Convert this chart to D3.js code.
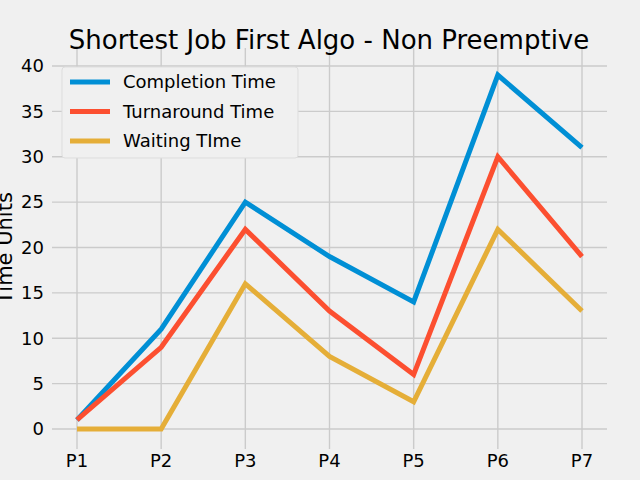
<!DOCTYPE html>
<html><head><meta charset="utf-8">
<script src="https://cdn.jsdelivr.net/npm/d3@7"></script>
<style>body{margin:0;background:#f0f0f0}svg{display:block}text{font-family:"DejaVu Sans",sans-serif}</style>
</head><body>
<script>
const categories=["P1","P2","P3","P4","P5","P6","P7"];
const completion=[1,11,25,19,14,39,31];
const turnaround=[1,9,22,13,6,30,19];
const waiting=[0,0,16,8,3,22,13];
const yTicks=[0,5,10,15,20,25,30,35,40];
const seriesNames=["Completion Time","Turnaround Time","Waiting TIme"];
const colors=["#008fd5","#fc4f30","#e5ae38"];
const W=640,H=480;
const svg=d3.select("body").append("svg").attr("width",W).attr("height",H).style("background","#f0f0f0");
const x=d3.scalePoint().domain(categories).range([77,582]);
const y=d3.scaleLinear().domain([0,40]).range([429,66]);
const g=svg.append("g");
yTicks.forEach(t=>{g.append("line").attr("x1",52).attr("x2",607).attr("y1",y(t)).attr("y2",y(t)).attr("stroke","#cbcbcb").attr("stroke-width",1.4);
 g.append("text").attr("x",44).attr("y",y(t)).attr("dy","0.35em").attr("text-anchor","end").attr("font-size",18).attr("fill","#000").text(t);});
categories.forEach(c=>{g.append("line").attr("x1",x(c)).attr("x2",x(c)).attr("y1",48).attr("y2",449).attr("stroke","#cbcbcb").attr("stroke-width",1.4);
 g.append("text").attr("x",x(c)).attr("y",467).attr("text-anchor","middle").attr("font-size",18).attr("fill","#000").text(c);});
const line=d3.line().x((d,i)=>x(categories[i])).y(d=>y(d));
[completion,turnaround,waiting].forEach((s,i)=>svg.append("path").datum(s).attr("d",line).attr("fill","none").attr("stroke",colors[i]).attr("stroke-width",5));
svg.append("text").attr("x",329).attr("y",49).attr("text-anchor","middle").attr("font-size",26).text("Shortest Job First Algo - Non Preemptive");
svg.append("text").attr("transform","translate(12,248) rotate(-90)").attr("text-anchor","middle").attr("font-size",21).text("Time Units");
svg.append("text").attr("x",329).attr("y",497).attr("text-anchor","middle").attr("font-size",21).text("Processes");
const lg=svg.append("g");
lg.append("rect").attr("x",62).attr("y",67).attr("width",236).attr("height",91).attr("rx",3).attr("fill","#f0f0f0").attr("stroke","#dddddd");
seriesNames.forEach((n,i)=>{const yy=82+i*29.5;
 lg.append("line").attr("x1",70).attr("x2",110).attr("y1",yy).attr("y2",yy).attr("stroke",colors[i]).attr("stroke-width",5);
 lg.append("text").attr("x",123).attr("y",yy).attr("dy","0.35em").attr("font-size",18).text(n);});
</script>
</body></html>
